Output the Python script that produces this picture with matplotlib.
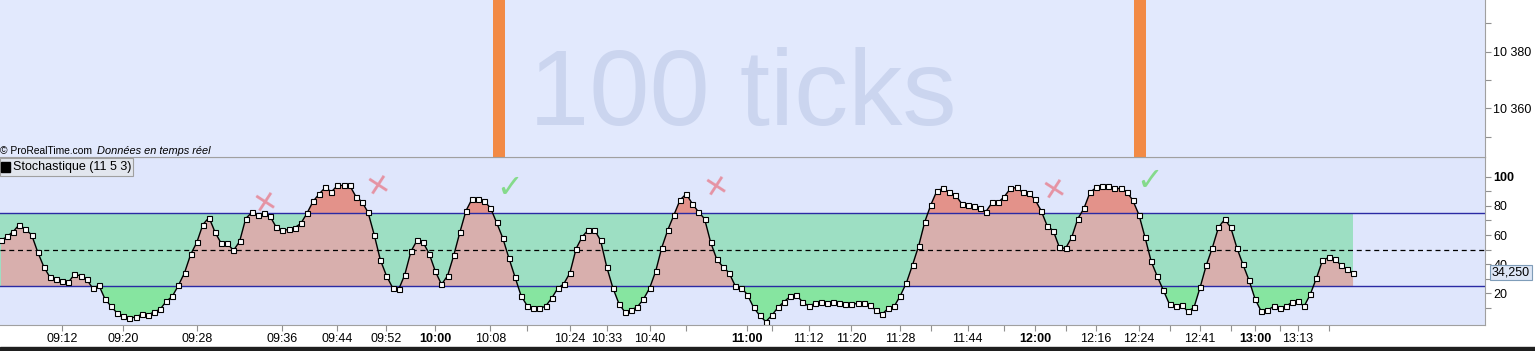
import numpy as np
import matplotlib.pyplot as plt
from matplotlib.patches import Rectangle
from matplotlib.transforms import blended_transform_factory

plt.rcParams['font.family'] = ['Liberation Sans', 'DejaVu Sans']

# stochastic (11 5 3) value of each 100-tick bar
stoch = [56.3, 59.0, 62.4, 67.2, 63.8, 60.2, 48.3, 38.2, 31.0, 29.6,
         28.2, 27.5, 33.0, 32.1, 29.6, 23.4, 25.5, 16.1, 11.1, 6.3,
         4.2, 2.9, 3.8, 5.6, 4.9, 7.4, 9.0, 14.5, 17.9, 25.5,
         34.1, 46.7, 54.9, 67.2, 72.0, 61.8, 54.2, 54.2, 49.4, 55.6,
         71.3, 75.5, 73.4, 74.8, 72.7, 65.2, 63.1, 63.8, 65.0, 67.9,
         74.8, 83.0, 88.2, 92.6, 89.6, 94.0, 94.0, 94.0, 86.4, 82.8,
         75.5, 60.2, 43.0, 32.1, 23.9, 22.7, 32.8, 48.7, 56.3, 54.9,
         47.1, 35.0, 26.1, 32.1, 46.0, 61.8, 76.6, 84.8, 84.4, 83.0,
         78.7, 68.6, 58.1, 44.4, 31.4, 18.4, 11.5, 9.7, 9.7, 11.1,
         16.6, 23.4, 26.6, 34.1, 50.6, 58.8, 63.6, 63.6, 56.3, 38.2,
         23.9, 12.9, 7.0, 8.8, 10.6, 15.9, 23.4, 35.0, 51.3, 63.6,
         73.9, 84.1, 88.2, 81.4, 75.9, 71.1, 54.9, 43.3, 38.2, 34.1,
         25.2, 23.9, 19.1, 10.4, 4.9, 0.6, 4.9, 10.4, 14.3, 17.9,
         18.6, 14.3, 11.1, 13.1, 14.3, 13.6, 14.3, 13.1, 12.4, 12.4,
         13.1, 13.1, 12.2, 8.3, 5.6, 9.7, 11.1, 18.4, 27.3, 39.6,
         52.6, 69.1, 80.9, 90.5, 91.9, 89.2, 87.6, 81.6, 80.9, 79.6,
         78.2, 76.1, 82.3, 82.3, 86.4, 91.9, 92.6, 89.2, 88.5, 84.4,
         76.8, 66.3, 62.9, 51.5, 50.8, 58.3, 71.1, 78.2, 89.2, 92.6,
         93.3, 93.3, 91.9, 91.9, 89.8, 83.7, 73.9, 58.3, 41.9, 31.6,
         22.0, 12.4, 11.1, 11.8, 7.6, 10.4, 24.1, 39.2, 51.3, 65.2,
         70.7, 65.2, 51.3, 39.8, 28.9, 15.9, 7.6, 8.3, 11.1, 9.7,
         11.1, 13.8, 14.5, 11.1, 19.3, 30.3, 42.6, 44.6, 43.9, 39.2,
         36.4, 34.25]

# time axis (bar index -> label)
tick_bars = [10, 20, 32, 46, 55, 63, 71, 80, 86, 93, 99, 106, 112, 122, 126,
             132, 139, 147, 152, 158, 164, 169, 174, 179, 186, 191, 196, 201,
             205, 209, 212, 217]
tick_labels = ['09:12', '09:20', '09:28', '09:36', '09:44', '09:52', '10:00',
               '10:08', '', '10:24', '10:33', '10:40', '', '11:00', '', '11:12',
               '11:20', '11:28', '', '11:44', '', '12:00', '', '12:16', '12:24',
               '', '12:41', '', '13:00', '', '13:13', '']
bold_labels = ['10:00', '11:00', '12:00', '13:00']

# levels
upper, lower, mid = 75, 25, 50

# orange vertical markers on the price panel (bar index)
marker_bars = [81.4, 186.2]

# hand-drawn annotations
cross_x = [43.2, 61.6, 116.9, 172.1]
cross_y = [82, 93.6, 93, 90.9]
check_x = [83.2, 187.8]
check_y = [92.2, 96.4]

bg = '#dfe6fc'
band_green = '#9ddfc3'
low_green = '#86e5a0'
pink = '#d8afad'
salmon = '#e3928a'
navy = '#2a2aa4'

W, H = 1535, 351
fig = plt.figure(figsize=(W / 100, H / 100), dpi=100, facecolor='white')
ax = fig.add_axes([0, (H - 325) / H, 1485 / W, 168 / H])
ax_top = fig.add_axes([0, (H - 157) / H, 1485 / W, 157 / H])

x = np.arange(len(stoch))
y = np.array(stoch)
xf = np.linspace(0, x[-1], len(x) * 20)
yf = np.interp(xf, x, y)

ax.set_facecolor(bg)
ax.fill_between([x[0] - 0.2, x[-1]], lower, upper, color=band_green, lw=0)
ax.fill_between(xf, lower, np.minimum(yf, upper), where=yf >= lower,
                color=pink, lw=0, interpolate=True)
ax.fill_between(xf, upper, yf, where=yf >= upper, color=salmon, lw=0,
                interpolate=True)
ax.fill_between(xf, yf, lower, where=yf <= lower, color=low_green, lw=0,
                interpolate=True)
ax.axhline(upper, color=navy, lw=1)
ax.axhline(lower, color=navy, lw=1)
ax.axhline(mid, color='black', lw=0.9, ls=(0, (4, 3)))
ax.plot(x, y, color='black', lw=1, marker='s', ms=3.6, mfc='white',
        mec='black', mew=0.8)

for cx, cy in zip(cross_x, cross_y):
    ax.text(cx, cy, '\u2715', color='#e8707e', alpha=0.7, fontsize=21,
            ha='center', va='center', family='DejaVu Sans', rotation=12)
for cx, cy in zip(check_x, check_y):
    ax.text(cx, cy, '\u2713', color='#6fd86f', alpha=0.8, fontsize=23,
            ha='center', va='center', family='DejaVu Sans')

ax.set_xlim(-1 / 6.118, 1484 / 6.118)
ax.set_ylim(-1.7, 113.5)
ax.set_xticks(tick_bars, tick_labels)
ax.tick_params(axis='x', direction='out', length=4, color='#909090',
               labelsize=9, pad=2)
for lab in ax.get_xticklabels():
    if lab.get_text() in bold_labels:
        lab.set_fontweight('bold')

ax.yaxis.tick_right()
ax.set_yticks(range(10, 101, 10),
              ['', '20', '', '40', '', '60', '', '80', '', '100'])
ax.tick_params(axis='y', direction='out', length=4, color='#909090',
               labelsize=9, pad=2)
ax.get_yticklabels()[-1].set_fontweight('bold')
ax.spines['left'].set_visible(False)
for side in ['right', 'bottom', 'top']:
    ax.spines[side].set_color('#a0a0a0')

tr = blended_transform_factory(ax.transAxes, ax.transData)
ax.text(1.0045, y[-1], '34,250', transform=tr, fontsize=9, va='center',
        ha='left', clip_on=False, zorder=6,
        bbox=dict(boxstyle='square,pad=0.15', fc='#dde6f5', ec='#7f9db9', lw=0.8))

# stochastic label box (figure pixels)
fig.add_artist(Rectangle((0, (H - 176) / H), 133 / W, 18 / H,
                         transform=fig.transFigure, fc='#e2e6ee',
                         ec='#a0a0a0', lw=0.8, zorder=5))
fig.add_artist(Rectangle((1 / W, (H - 172) / H), 9 / W, 10 / H,
                         transform=fig.transFigure, color='black', zorder=6))
fig.text(13 / W, (H - 167) / H, 'Stochastique (11 5 3)', fontsize=9,
         ha='left', va='center', zorder=7)

# price panel
ax_top.set_facecolor('#e2e9fd')
ax_top.set_xlim(ax.get_xlim())
ax_top.set_ylim(10342.8, 10398.3)
for b in marker_bars:
    ax_top.axvspan(b - 0.98, b + 0.98, color='#f28a45', lw=0)
ax_top.text(0.5, 0.38, '100 ticks', transform=ax_top.transAxes,
            fontsize=78, color='#cbd5ef', ha='center', va='center')
ax_top.text(0.0, 0.038, '\u00a9 ProRealTime.com', transform=ax_top.transAxes,
            fontsize=7.4, ha='left', va='center')
ax_top.text(97 / 1485, 0.038, 'Donn\u00e9es en temps r\u00e9el',
            transform=ax_top.transAxes, fontsize=7.9, ha='left', va='center',
            style='italic')
ax_top.set_xticks([])
ax_top.yaxis.tick_right()
ax_top.set_yticks([10350, 10360, 10370, 10380, 10390],
                  ['', '10 360', '', '10 380', ''])
ax_top.tick_params(axis='y', direction='out', length=4, color='#909090',
                   labelsize=9, pad=2)
ax_top.spines['left'].set_visible(False)
ax_top.spines['top'].set_visible(False)
for side in ['right', 'bottom']:
    ax_top.spines[side].set_color('#a0a0a0')

fig.add_artist(Rectangle((0, 0), 1, 4 / H, transform=fig.transFigure,
                         color='#1f1f1f'))

fig.savefig('out.png', dpi=100)
